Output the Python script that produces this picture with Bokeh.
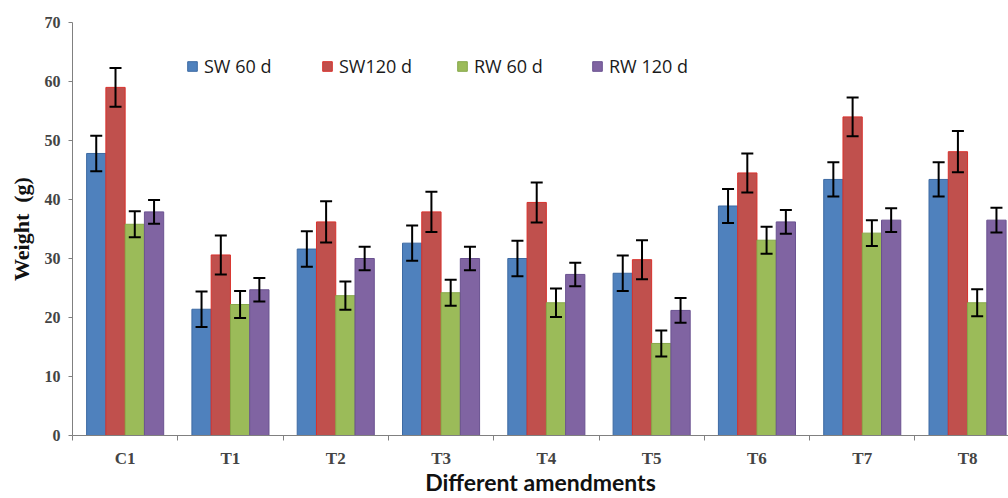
from bokeh.plotting import figure
from bokeh.models import (ColumnDataSource, Range1d, FixedTicker, CustomJSTickFormatter,
                          Whisker, TeeHead, Legend, LegendItem)
from bokeh.embed import file_html
from bokeh.resources import INLINE

cats = ["C1", "T1", "T2", "T3", "T4", "T5", "T6", "T7", "T8"]
series_names = ["SW 60 d", "SW120 d", "RW 60 d", "RW 120 d"]
sw60 = [47.8, 21.4, 31.6, 32.6, 30.0, 27.5, 38.9, 43.4, 43.4]
sw120 = [59.0, 30.6, 36.2, 37.9, 39.5, 29.8, 44.5, 54.0, 48.1]
rw60 = [35.8, 22.2, 23.7, 24.2, 22.5, 15.6, 33.1, 34.3, 22.5]
rw120 = [37.9, 24.7, 30.0, 30.0, 27.3, 21.2, 36.2, 36.5, 36.5]
sw60_err = [3.0, 3.0, 3.0, 3.0, 3.0, 3.0, 2.9, 2.9, 2.9]
sw120_err = [3.3, 3.3, 3.5, 3.4, 3.4, 3.3, 3.3, 3.3, 3.5]
rw60_err = [2.2, 2.3, 2.4, 2.2, 2.4, 2.2, 2.3, 2.2, 2.3]
rw120_err = [2.0, 2.0, 2.0, 2.0, 2.0, 2.1, 2.0, 2.0, 2.1]
y_ticks = [0, 10, 20, 30, 40, 50, 60, 70]

fills = ["#4f81bd", "#c0504d", "#9bbb59", "#8064a2"]
lines = ["#3d6aa3", "#d8312c", "#86a84a", "#6a5290"]

W, H = 1008, 498
p = figure(width=W, height=H, output_backend="svg", toolbar_location=None,
           x_range=Range1d(0, (W - 72) / 105.3), y_range=Range1d(0, 70),
           min_border_left=72, min_border_right=0, min_border_top=22, min_border_bottom=62)
p.outline_line_color = None
p.xgrid.visible = False
p.ygrid.visible = False

bw = 0.183
values = [sw60, sw120, rw60, rw120]
errs = [sw60_err, sw120_err, rw60_err, rw120_err]
items = []
for k, (vals, er) in enumerate(zip(values, errs)):
    off = (k - 1.5) * bw
    xs = [i + 0.5 + off for i in range(len(cats))]
    src = ColumnDataSource(dict(x=xs, top=vals,
                                upper=[v + e for v, e in zip(vals, er)],
                                lower=[v - e for v, e in zip(vals, er)]))
    r = p.vbar(x="x", top="top", width=bw, source=src, fill_color=fills[k],
               line_color=lines[k], line_width=1)
    items.append(LegendItem(label=series_names[k], renderers=[r]))
    w = Whisker(base="x", upper="upper", lower="lower", source=src,
                line_color="black", line_width=2, level="overlay",
                upper_head=TeeHead(size=12, line_width=2, line_color="black"),
                lower_head=TeeHead(size=12, line_width=2, line_color="black"))
    p.add_layout(w)

legend = Legend(items=items, orientation="horizontal", location=(114, 357),
                glyph_width=12, glyph_height=12, label_width=105, spacing=12,
                padding=0, margin=0, border_line_color=None, background_fill_alpha=0,
                label_text_font="Open Sans", label_text_font_size="18px",
                label_standoff=6, label_text_color="#1a1a1a")
p.add_layout(legend)

# x axis
xa = p.xaxis[0]
xa.ticker = FixedTicker(ticks=[i + 0.5 for i in range(len(cats))],
                        minor_ticks=list(range(len(cats) + 1)))
xa.formatter = CustomJSTickFormatter(args=dict(labels=cats),
                                     code="return labels[Math.round(tick - 0.5)];")
xa.major_tick_line_color = None
xa.major_tick_in = 0
xa.major_tick_out = 0
xa.minor_tick_in = 0
xa.minor_tick_out = 5
xa.minor_tick_line_color = "#808080"
xa.axis_line_color = "#808080"
xa.major_label_text_font = "Liberation Serif"
xa.major_label_text_font_style = "bold"
xa.major_label_text_font_size = "17px"
xa.major_label_standoff = 8
xa.axis_label = "Different amendments"
xa.axis_label_text_font = "Lato"
xa.axis_label_text_font_style = "bold"
xa.axis_label_text_font_size = "23px"
xa.axis_label_standoff = -3
xa.axis_label_text_color = "#111111"

# y axis
ya = p.yaxis[0]
ya.ticker = FixedTicker(ticks=y_ticks)
ya.minor_tick_line_color = None
ya.major_tick_in = 0
ya.major_tick_out = 4
ya.major_tick_line_color = "#808080"
ya.axis_line_color = "#808080"
ya.major_label_text_font = "Liberation Serif"
ya.major_label_text_font_style = "bold"
ya.major_label_text_font_size = "16px"
ya.major_label_standoff = 8
ya.axis_label = "Weight\u00a0 (g)"
ya.axis_label_text_font = "Liberation Serif"
ya.axis_label_text_font_style = "bold"
ya.axis_label_text_font_size = "22px"
ya.axis_label_standoff = 8
ya.axis_label_text_color = "#111111"

open("out.html", "w").write(file_html(p, INLINE))
